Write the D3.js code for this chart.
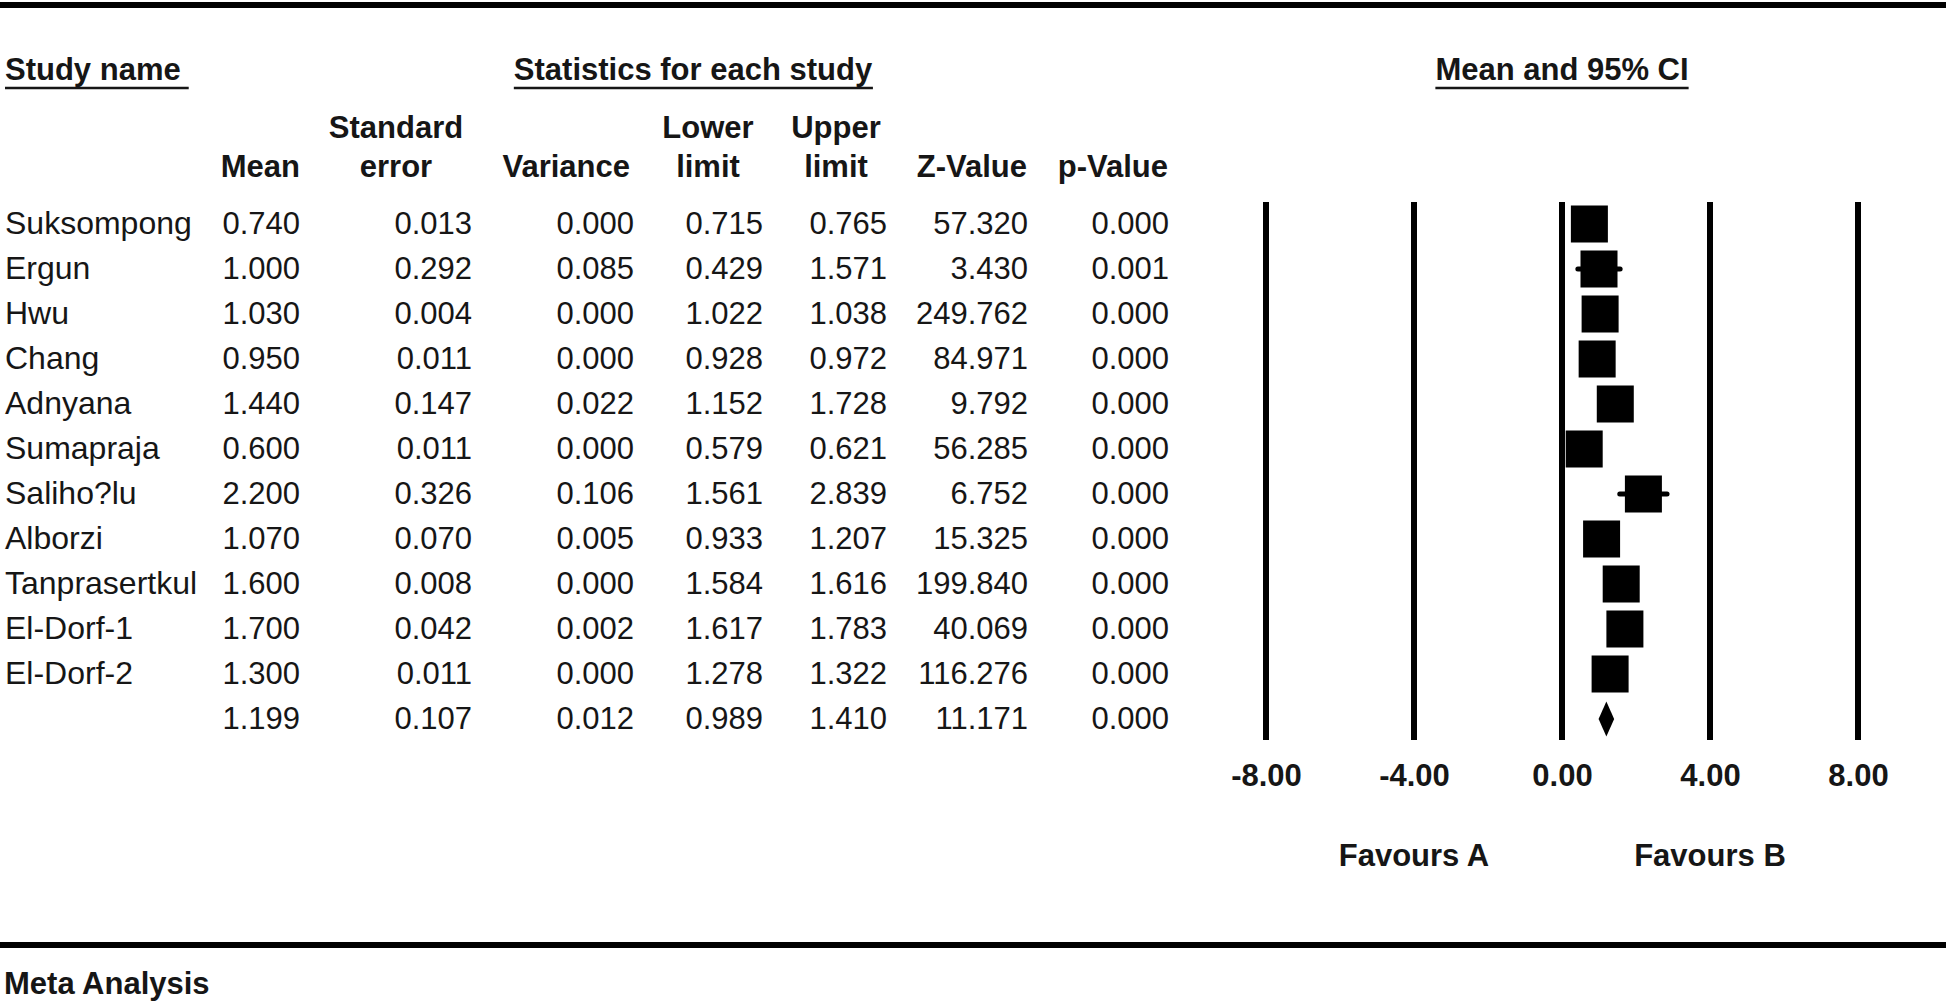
<!DOCTYPE html>
<html>
<head>
<meta charset="utf-8">
<script src="https://cdn.jsdelivr.net/npm/d3@7"></script>
<style>
    body { margin: 0; background: #fff; }
    text { font-family: "Liberation Sans", Arial, sans-serif; fill: #161616; }
    .bold { font-weight: bold; }
</style>
</head>
<body>
<svg id="chart" width="1946" height="1005"></svg>
<script>
// DATA
var studyNames = ['Suksompong', 'Ergun', 'Hwu', 'Chang', 'Adnyana', 'Sumapraja', 'Saliho?lu', 'Alborzi', 'Tanprasertkul', 'El-Dorf-1', 'El-Dorf-2'];
var means = [0.740, 1.000, 1.030, 0.950, 1.440, 0.600, 2.200, 1.070, 1.600, 1.700, 1.300];
var stdErrors = [0.013, 0.292, 0.004, 0.011, 0.147, 0.011, 0.326, 0.070, 0.008, 0.042, 0.011];
var variances = [0.000, 0.085, 0.000, 0.000, 0.022, 0.000, 0.106, 0.005, 0.000, 0.002, 0.000];
var lowerLimits = [0.715, 0.429, 1.022, 0.928, 1.152, 0.579, 1.561, 0.933, 1.584, 1.617, 1.278];
var upperLimits = [0.765, 1.571, 1.038, 0.972, 1.728, 0.621, 2.839, 1.207, 1.616, 1.783, 1.322];
var zValues = [57.320, 3.430, 249.762, 84.971, 9.792, 56.285, 6.752, 15.325, 199.840, 40.069, 116.276];
var pValues = [0.000, 0.001, 0.000, 0.000, 0.000, 0.000, 0.000, 0.000, 0.000, 0.000, 0.000];

// overall (summary) row
var summaryStats = [1.199, 0.107, 0.012, 0.989, 1.410, 11.171, 0.000];

var axisTicks = [-8, -4, 0, 4, 8];
var favoursLabels = ['Favours A', 'Favours B'];
var favoursAt = [-4, 4];

// LAYOUT
var svg = d3.select('#chart');
var fontSize = 31;

var x = d3.scaleLinear().domain([-8, 8]).range([1266, 1858]);
var rowY = d3.scalePoint().domain(d3.range(studyNames.length + 1)).range([224, 719]);

// right edges of the number columns
var colRight = [300, 472, 634, 763, 887, 1028, 1169];

// thick rules top and bottom
svg.append('line').attr('x1', 0).attr('x2', 1946).attr('y1', 5).attr('y2', 5)
    .attr('stroke', '#000').attr('stroke-width', 6);
svg.append('line').attr('x1', 0).attr('x2', 1946).attr('y1', 945).attr('y2', 945)
    .attr('stroke', '#000').attr('stroke-width', 6);

// group headers with underline
function underlinedTitle(label, xPos, anchor){
    var t = svg.append('text')
        .attr('class', 'bold')
        .attr('x', xPos).attr('y', 80)
        .attr('text-anchor', anchor)
        .style('font-size', fontSize + 'px')
        .text(label);
    var box = t.node().getBBox();
    svg.append('line')
        .attr('x1', box.x).attr('x2', box.x + box.width + (anchor === 'start' ? 8 : 0))
        .attr('y1', 88).attr('y2', 88)
        .attr('stroke', '#161616').attr('stroke-width', 2.5);
}
underlinedTitle('Study name', 5, 'start');
underlinedTitle('Statistics for each study', 693, 'middle');
underlinedTitle('Mean and 95% CI', x(0), 'middle');

// column headers (two lines)
var colHeaders = [
    {lines: ['', 'Mean'], x: 300, anchor: 'end'},
    {lines: ['Standard', 'error'], x: 396, anchor: 'middle'},
    {lines: ['', 'Variance'], x: 630, anchor: 'end'},
    {lines: ['Lower', 'limit'], x: 708, anchor: 'middle'},
    {lines: ['Upper', 'limit'], x: 836, anchor: 'middle'},
    {lines: ['', 'Z-Value'], x: 1027, anchor: 'end'},
    {lines: ['', 'p-Value'], x: 1168, anchor: 'end'}
];
colHeaders.forEach(function(h){
    h.lines.forEach(function(line, j){
        if (line === '') return;
        svg.append('text')
            .attr('class', 'bold')
            .attr('x', h.x).attr('y', j === 0 ? 138 : 177)
            .attr('text-anchor', h.anchor)
            .style('font-size', fontSize + 'px')
            .text(line);
    });
});

// table rows
var rows = studyNames.map(function(name, i){
    return {
        name: name,
        stats: [means[i], stdErrors[i], variances[i], lowerLimits[i], upperLimits[i], zValues[i], pValues[i]]
    };
});
rows.push({name: '', stats: summaryStats});

var rowG = svg.selectAll('.row').data(rows).enter().append('g')
    .attr('class', 'row')
    .attr('transform', function(d, i){ return 'translate(0,' + (rowY(i) + 10) + ')'; });

rowG.append('text')
    .attr('x', 5)
    .style('font-size', '32px') // names come out a bit wider than the numbers
    .text(function(d){ return d.name; });

rowG.selectAll('.num').data(function(d){ return d.stats; }).enter().append('text')
    .attr('class', 'num')
    .attr('x', function(d, j){ return colRight[j]; })
    .attr('text-anchor', 'end')
    .style('font-size', fontSize + 'px')
    .text(function(d){ return d.toFixed(3); });

// plot: vertical reference lines
svg.selectAll('.vline').data(axisTicks).enter().append('line')
    .attr('class', 'vline')
    .attr('x1', function(d){ return x(d); }).attr('x2', function(d){ return x(d); })
    .attr('y1', 202).attr('y2', 740)
    .attr('stroke', '#000').attr('stroke-width', 6);

// axis tick labels
var axis = d3.axisBottom(x)
    .tickValues(axisTicks)
    .tickSize(0)
    .tickPadding(0)
    .tickFormat(function(d){ return d.toFixed(2); });
var axisG = svg.append('g').attr('transform', 'translate(0,764)').call(axis);
axisG.select('.domain').remove();
axisG.selectAll('text')
    .attr('class', 'bold')
    .attr('dy', '0.71em')
    .attr('font-family', null)
    .attr('font-size', null)
    .attr('fill', null)
    .style('font-size', fontSize + 'px');

// favours labels
svg.selectAll('.favours').data(favoursLabels).enter().append('text')
    .attr('class', 'favours bold')
    .attr('x', function(d, i){ return x(favoursAt[i]); })
    .attr('y', 866)
    .attr('text-anchor', 'middle')
    .style('font-size', fontSize + 'px')
    .text(function(d){ return d; });

// CI whiskers
var boxSize = 37;
var studies = studyNames.map(function(name, i){ return {i: i, mean: means[i], lo: lowerLimits[i], hi: upperLimits[i]}; });

svg.selectAll('.whisker').data(studies).enter().append('line')
    .attr('class', 'whisker')
    .attr('x1', function(d){ return x(d.lo); }).attr('x2', function(d){ return x(d.hi); })
    .attr('y1', function(d){ return rowY(d.i); }).attr('y2', function(d){ return rowY(d.i); })
    .attr('stroke', '#000').attr('stroke-width', 5).attr('stroke-linecap', 'round');

svg.selectAll('.box').data(studies).enter().append('rect')
    .attr('class', 'box')
    .attr('x', function(d){ return x(d.mean) - boxSize / 2; })
    .attr('y', function(d){ return rowY(d.i) - boxSize / 2; })
    .attr('width', boxSize).attr('height', boxSize)
    .attr('fill', '#000');

// summary diamond
var cy = rowY(studyNames.length);
var diamond = [
    [x(summaryStats[3]), cy],
    [x(summaryStats[0]), cy - 17.5],
    [x(summaryStats[4]), cy],
    [x(summaryStats[0]), cy + 17.5]
];
svg.append('path')
    .attr('d', d3.line()(diamond) + 'Z')
    .attr('fill', '#000');

// footer
svg.append('text')
    .attr('class', 'bold')
    .attr('x', 4).attr('y', 994)
    .style('font-size', fontSize + 'px')
    .text('Meta Analysis');
</script>
</body>
</html>
